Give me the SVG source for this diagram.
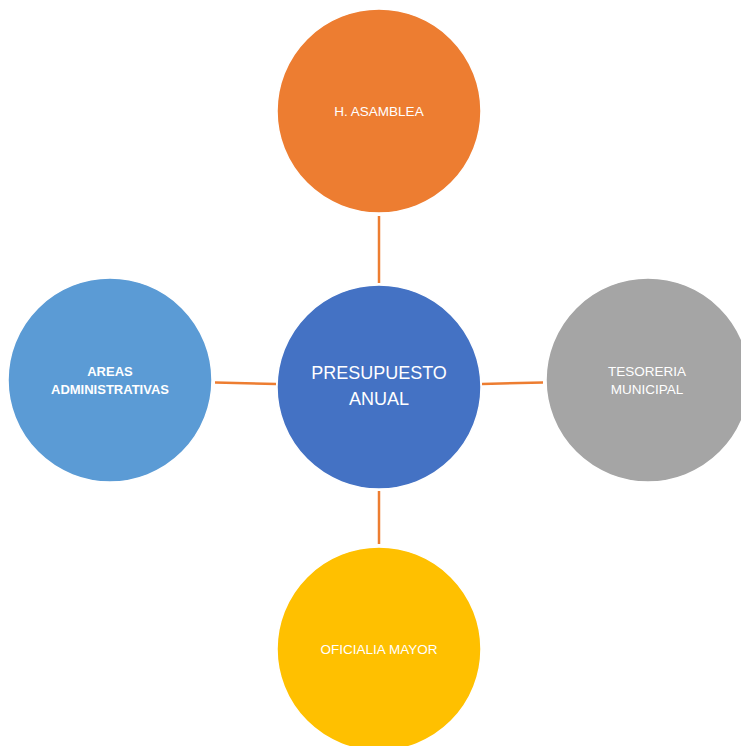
<svg xmlns="http://www.w3.org/2000/svg" width="741" height="746" viewBox="0 0 741 746">
  <style>
    .node circle { stroke: #ffffff; stroke-width: 1.5; }
    .lbl { font-family: "Liberation Sans", Arial, sans-serif; fill: #ffffff; text-anchor: middle; }
    .sm { font-size: 13.5px; }
    .bold { font-weight: bold; font-size: 13px; }
    .big { font-size: 18px; }
    .conn line { stroke: #ED7D31; stroke-width: 2.5; }
  </style>
  <rect width="741" height="746" fill="#ffffff"/>
  <g id="connectors" class="conn">
    <line x1="379" y1="216" x2="379" y2="283"/>
    <line x1="215" y1="382.5" x2="276" y2="384"/>
    <line x1="482" y1="384" x2="543" y2="382.5"/>
    <line x1="379" y1="491" x2="379" y2="544"/>
  </g>
  <g id="node-asamblea" class="node">
    <circle cx="379" cy="111" r="102" fill="#ED7D31"/>
    <text class="lbl sm" x="379" y="116">H. ASAMBLEA</text>
  </g>
  <g id="node-presupuesto" class="node">
    <circle cx="379" cy="387" r="102" fill="#4472C4"/>
    <text class="lbl big" x="379" y="379">PRESUPUESTO</text>
    <text class="lbl big" x="379" y="405">ANUAL</text>
  </g>
  <g id="node-areas" class="node">
    <circle cx="110" cy="380" r="102" fill="#5B9BD5"/>
    <text class="lbl bold" x="110" y="376">AREAS</text>
    <text class="lbl bold" x="110" y="394">ADMINISTRATIVAS</text>
  </g>
  <g id="node-tesoreria" class="node">
    <circle cx="648" cy="380" r="102" fill="#A5A5A5"/>
    <text class="lbl sm" x="647" y="376">TESORERIA</text>
    <text class="lbl sm" x="647" y="394">MUNICIPAL</text>
  </g>
  <g id="node-oficialia" class="node">
    <circle cx="379" cy="649" r="102" fill="#FFC000"/>
    <text class="lbl sm" x="379" y="654">OFICIALIA MAYOR</text>
  </g>
</svg>
